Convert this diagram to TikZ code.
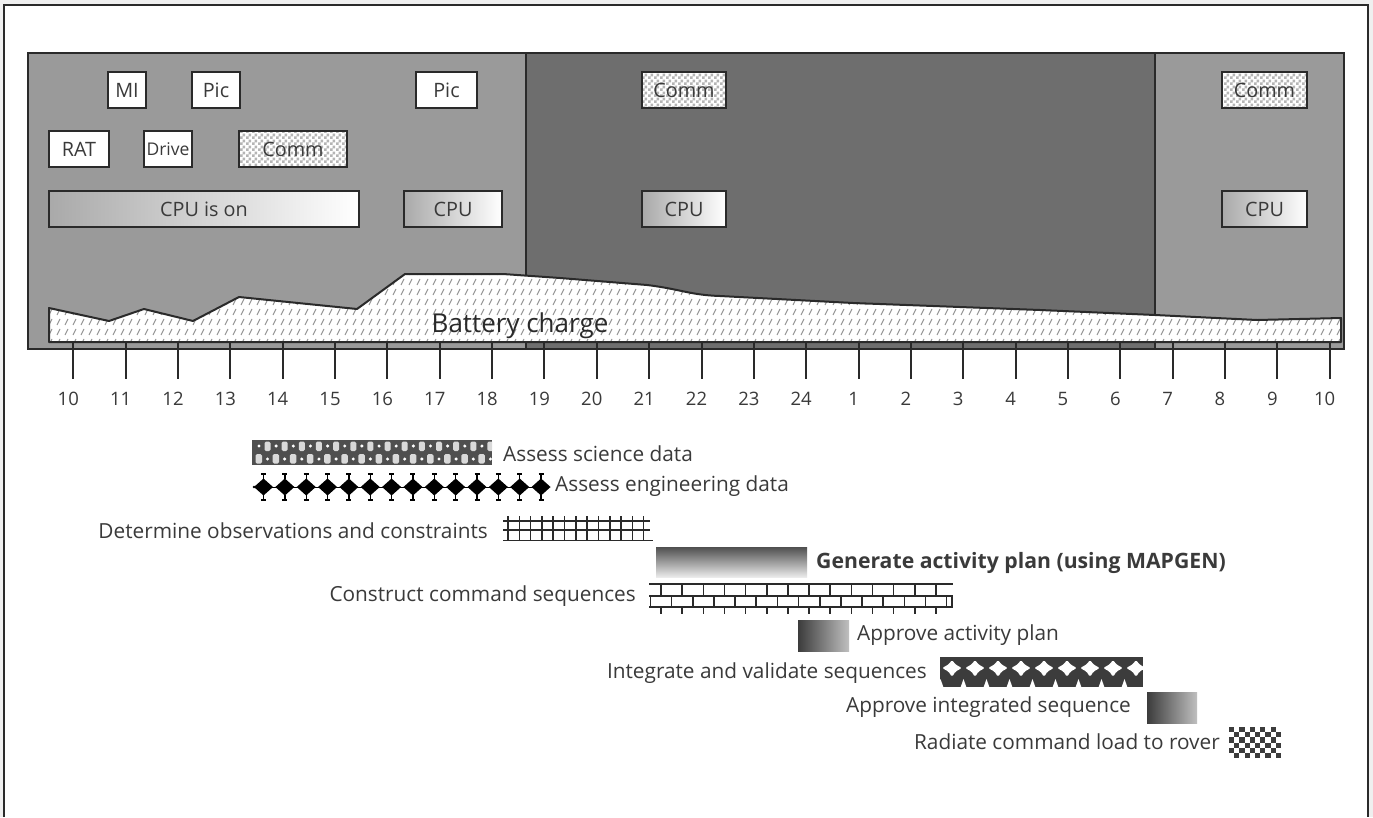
\documentclass[tikz,border=0pt]{standalone}
\usepackage{fontspec}
\setmainfont{Open Sans}
\usetikzlibrary{patterns,calc}
\definecolor{ink}{HTML}{3A3A3A}
\definecolor{edge}{HTML}{2A2A2A}
\definecolor{lightbg}{HTML}{9A9A9A}
\definecolor{darkbg}{HTML}{6E6E6E}
\definecolor{pagebg}{HTML}{EFEFEF}
\definecolor{hatchgray}{HTML}{959595}
\definecolor{checkgray}{HTML}{B5B5B5}
\definecolor{scidark}{HTML}{4F4F4F}
\definecolor{intdark}{HTML}{3C3C3C}
\pgfdeclarepatternformonly{smallcheck}{\pgfpointorigin}{\pgfpoint{6pt}{6pt}}{\pgfpoint{6pt}{6pt}}{%
  \pgfpathrectangle{\pgfpointorigin}{\pgfpoint{3pt}{3pt}}%
  \pgfpathrectangle{\pgfpoint{3pt}{3pt}}{\pgfpoint{3pt}{3pt}}%
  \pgfusepath{fill}}
\pgfdeclarepatternformonly{batthatch}{\pgfpoint{-1pt}{-1pt}}{\pgfpoint{9pt}{11pt}}{\pgfpoint{8pt}{10pt}}{%
  \pgfsetlinewidth{1pt}%
  \pgfpathmoveto{\pgfpoint{1pt}{2pt}}\pgfpathlineto{\pgfpoint{4pt}{8pt}}%
  \pgfusepath{stroke}}
\tikzset{
  boxtxt/.style={font=\fontsize{19.8}{21}\selectfont, text=ink},
  box/.style={draw=edge, line width=2pt, fill=white, inner sep=0pt, boxtxt},
  cpubox/.style={draw=edge, line width=2pt, inner sep=0pt, boxtxt, left color=lightbg!85, right color=white},
  commbox/.style={draw=edge, line width=2pt, inner sep=0pt, boxtxt,
     preaction={fill=white}, pattern=smallcheck, pattern color=checkgray},
  battery/.style={preaction={fill=white}, pattern=batthatch, pattern color=hatchgray, draw=edge, line width=2pt, line join=round},
  tick/.style={draw=edge, line width=2pt},
  ticklbl/.style={font=\fontsize{18.5}{20}\selectfont, text=ink, inner sep=0pt},
  tasktxt/.style={font=\fontsize{20.8}{23}\selectfont, text=ink, inner sep=0pt},
  gbar/.style={inner sep=0pt, outer sep=0pt},
  pat/.style={draw=edge, line width=1.6pt},
}
\begin{document}
\begin{tikzpicture}[x=1pt,y=-1pt]
\useasboundingbox (0,0) rectangle (1373,817);
% page and outer frame
\fill[pagebg] (0,0) rectangle (1373,817);
\fill[white] (4,5) rectangle (1368,817);
\draw[edge, line width=1.5pt] (4,817) -- (4,5) -- (1368,5) -- (1368,817);
% panel
\fill[lightbg] (28,53) rectangle (526,349);
\fill[darkbg] (526,53) rectangle (1155,349);
\fill[lightbg] (1155,53) rectangle (1344,349);
\draw[edge, line width=1.6pt] (526,53) -- (526,349);
\draw[edge, line width=1.6pt] (1155,53) -- (1155,349);
\draw[edge, line width=2.5pt] (28,53) rectangle (1344,349);
% battery
\path[battery] (49,342) -- (49,308) -- (109,321) -- (144,309) -- (193,321) -- (239,297)
  -- (357,309) -- (405,274) -- (503,274) -- (560,278) -- (647,285)
  .. controls (680,289) and (690,295) .. (720,296) -- (853,303) -- (1040,310)
  -- (1155,315) -- (1257,320) -- (1341,318) -- (1341,342) -- cycle;
\node[font=\fontsize{26}{28}\selectfont, text=edge, inner sep=0pt] (batt) at (520,326) {Battery charge};
% boxes
\node[box, minimum width=38, minimum height=36] (mi) at (127,90) {MI};
\node[box, minimum width=48, minimum height=36] (pic1) at (216,90) {Pic};
\node[box, minimum width=61, minimum height=36] (pic2) at (446.5,90) {Pic};
\node[box, minimum width=60, minimum height=36] (rat) at (79,149) {RAT};
\node[box, minimum width=48, minimum height=36, font=\fontsize{17.5}{19}\selectfont] (drive) at (168,149) {Drive};
\node[commbox, minimum width=108, minimum height=36] (comm1) at (293,149) {Comm};
\node[cpubox, minimum width=310, minimum height=36] (cpuon) at (204,209) {CPU is on};
\node[cpubox, minimum width=98, minimum height=36] (cpu1) at (453,209) {CPU};
\node[commbox, minimum width=84, minimum height=36] (comm2) at (684,90) {Comm};
\node[cpubox, minimum width=84, minimum height=36] (cpu2) at (684,209) {CPU};
\node[commbox, minimum width=85, minimum height=36] (comm3) at (1264.5,90) {Comm};
\node[cpubox, minimum width=85, minimum height=36] (cpu3) at (1264.5,209) {CPU};
% ticks and hour labels
\foreach \lab [count=\i from 0] in {10,11,12,13,14,15,16,17,18,19,20,21,22,23,24,1,2,3,4,5,6,7,8,9,10} {
  \pgfmathsetmacro\tx{73.3+52.35*\i}
  \draw[tick] (\tx,343) -- (\tx,379);
  \node[ticklbl] (h\i) at (\tx-5,399) {\lab};
}
% ---- Assess science data
\node[gbar, minimum width=240, minimum height=25, fill=scidark] (sci) at (372,452.5) {};
\begin{scope}
  \clip (252,440) rectangle (492,465);
  \foreach \k in {0,...,13} {
    \pgfmathsetmacro\sx{252+17.15*\k}
    \fill[white!85!black, rounded corners=1.5pt] (\sx+12.5,441.5) rectangle (\sx+18.5,451);
    \fill[white!85!black, rounded corners=1.5pt] (\sx+3.5,454) rectangle (\sx+10,463.5);
    \fill[white] (\sx+7,446) circle (1.7);
    \fill[white] (\sx+15.5,459) circle (1.7);
  }
\end{scope}
\node[tasktxt, anchor=west] (sciT) at (503,454) {Assess science data};
% ---- Assess engineering data
\node[gbar, minimum width=292, minimum height=27] (eng) at (400,487) {};
\fill[black] (254,487) circle (1.3);
\draw[black, line width=1pt] (255,487) -- (545,487);
\foreach \k in {0,...,13} {
  \pgfmathsetmacro\cx{263.5+21.35*\k}
  \fill[black] (\cx-9.5,487) -- (\cx,478.5) -- (\cx+9.5,487) -- (\cx,495.5) -- cycle;
  \draw[black, line width=1.3pt] (\cx,474) -- (\cx,479) (\cx-2.5,474) -- (\cx+2.5,474);
  \draw[black, line width=1.3pt] (\cx,495) -- (\cx,500) (\cx-2.5,500) -- (\cx+2.5,500);
}
\node[tasktxt, anchor=west] (engT) at (555,486) {Assess engineering data};
% ---- Determine observations and constraints
\node[gbar, minimum width=150, minimum height=25] (det) at (578,529) {};
\foreach \k in {0,...,12} {
  \pgfmathsetmacro\gx{508+11.3*\k}
  \draw[pat] (\gx,516) -- (\gx,540);
}
\draw[pat] (503,521) -- (650,521);
\draw[pat] (503,530) -- (650,530);
\draw[pat] (503,540.5) -- (653,540.5);
\node[tasktxt, anchor=east] (detT) at (488,531) {Determine observations and constraints};
% ---- Generate activity plan
\node[gbar, minimum width=151, minimum height=30, top color=scidark, bottom color=white!92!black] (gen) at (731.5,562) {};
\node[tasktxt, anchor=west, font=\fontsize{21.2}{23}\selectfont\bfseries] (genT) at (816,563) {Generate activity plan (using MAPGEN)};
% ---- Construct command sequences
\node[gbar, minimum width=304, minimum height=30] (con) at (801,598) {};
\foreach \yy in {584,595.5,607} { \draw[pat, line width=2pt] (649,\yy) -- (953,\yy); }
\foreach \k in {0,...,13} {
  \pgfmathsetmacro\bx{661+21.15*\k}
  \draw[pat] (\bx,584) -- (\bx,595.5);
  \draw[pat] (\bx,607) -- (\bx,614);
}
\foreach \k in {0,...,14} {
  \pgfmathsetmacro\bx{650.5+21.15*\k}
  \draw[pat] (\bx,595.5) -- (\bx,607);
}
\draw[pat] (952,595.5) -- (952,607);
\node[tasktxt, anchor=east] (conT) at (636,596) {Construct command sequences};
% ---- Approve activity plan
\node[gbar, minimum width=51, minimum height=31, left color=intdark, right color=white!75!black] (apa) at (823.5,635.5) {};
\node[tasktxt, anchor=west] (apaT) at (857,635) {Approve activity plan};
% ---- Integrate and validate sequences
\node[gbar, minimum width=203, minimum height=30, fill=intdark] (intg) at (1041.5,672) {};
\begin{scope}
  \clip (940,657) rectangle (1143,687);
  \foreach \k in {0,...,8} {
    \pgfmathsetmacro\cx{952+23*\k}
    \fill[white, rounded corners=1.5pt] (\cx,660) -- (\cx+3.5,664.5) -- (\cx+10,668) -- (\cx+3.5,671.5) -- (\cx,677) -- (\cx-3.5,671.5) -- (\cx-10,668) -- (\cx-3.5,664.5) -- cycle;
    \fill[white] (\cx+8.5,687.5) -- (\cx+11.5,679) -- (\cx+14.5,687.5) -- cycle;
  }
  \fill[white] (937.5,687.5) -- (940.5,679) -- (943.5,687.5) -- cycle;
\end{scope}
\node[tasktxt, anchor=east] (intgT) at (927,673) {Integrate and validate sequences};
% ---- Approve integrated sequence
\node[gbar, minimum width=50, minimum height=31, left color=intdark, right color=white!75!black] (api) at (1172,707.5) {};
\node[tasktxt, anchor=east] (apiT) at (1131,707) {Approve integrated sequence};
% ---- Radiate command load to rover
\node[gbar, minimum width=52, minimum height=31, fill=white] (rad) at (1255,742.5) {};
\foreach \r in {0,...,5} {
  \foreach \c in {0,...,9} {
    \pgfmathparse{int(mod(\r+\c,2))}
    \ifnum\pgfmathresult=0
      \fill[intdark] (1229+5.2*\c,727+5.17*\r) rectangle (1229+5.2*\c+5.2,727+5.17*\r+5.17);
    \fi
  }
}
\node[tasktxt, anchor=east] (radT) at (1220,742) {Radiate command load to rover};
\end{tikzpicture}
\end{document}
